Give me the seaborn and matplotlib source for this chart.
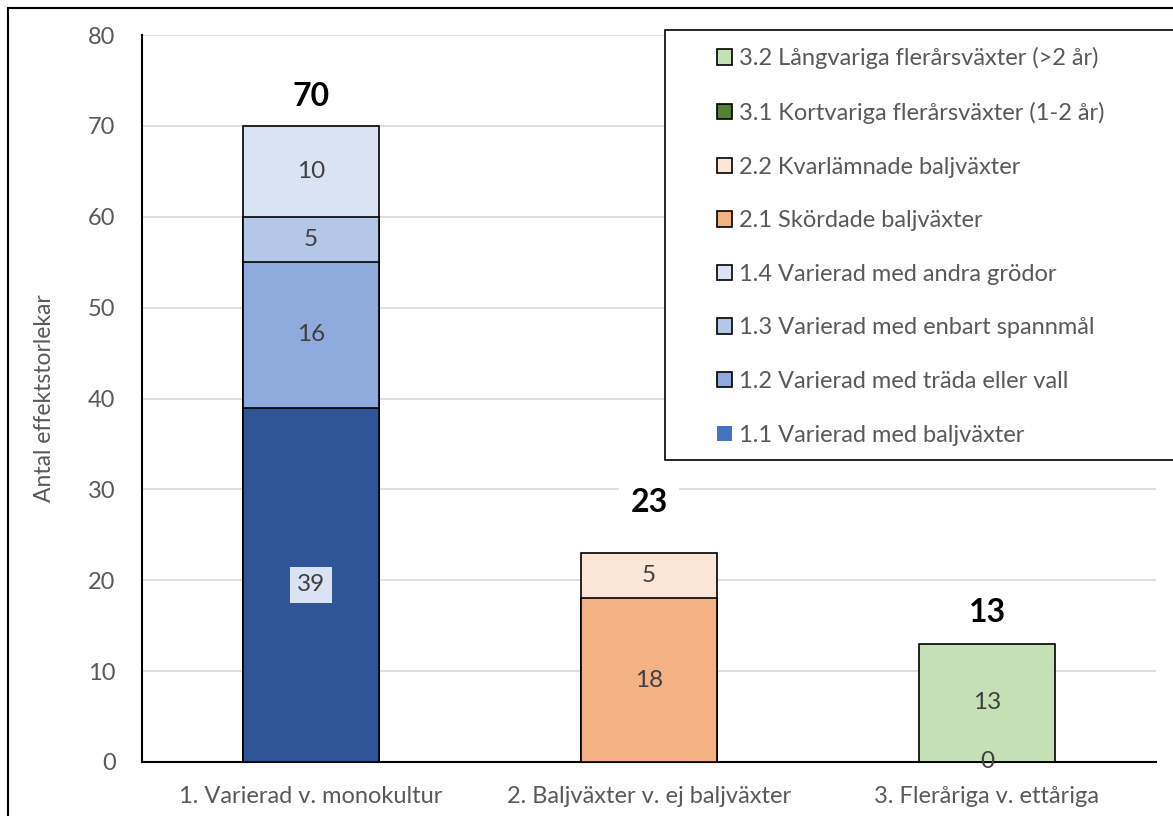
import pandas as pd
import numpy as np
import matplotlib.pyplot as plt
import seaborn as sns
from matplotlib.patches import Patch, Rectangle

# ── Data ──
CATEGORIES = ['1. Varierad v. monokultur', '2. Baljväxter v. ej baljväxter',
              '3. Fleråriga v. ettåriga']
SEGMENTS = ['1.1 Varierad med baljväxter', '1.2 Varierad med träda eller vall',
            '1.3 Varierad med enbart spannmål', '1.4 Varierad med andra grödor',
            '2.1 Skördade baljväxter', '2.2 Kvarlämnade baljväxter',
            '3.1 Kortvariga flerårsväxter (1-2 år)', '3.2 Långvariga flerårsväxter (>2 år)']
SEGMENT_CATEGORY = [0, 0, 0, 0, 1, 1, 2, 2]
SEGMENT_VALUES = [39, 16, 5, 10, 18, 5, 0, 13]

# ── Styles ──
BAR_COLORS = ['#2F5597', '#8FAADC', '#B4C7E7', '#DAE3F3',
              '#F4B183', '#FBE5D6', '#548235', '#C5E0B4']
LEGEND_COLORS = ['#4472C4', '#8FAADC', '#B4C7E7', '#DAE3F3',
                 '#F4B183', '#FBE5D6', '#548235', '#C5E0B4']
TOTAL_PAD = [3.2, 5.6, 3.5]
GREY = '#595959'

sns.set_style('white')
plt.rcParams['font.family'] = ['Lato', 'DejaVu Sans']

# long-form table with cumulative tops per category
df = pd.DataFrame({'cat': [CATEGORIES[i] for i in SEGMENT_CATEGORY],
                   'segment': SEGMENTS, 'value': SEGMENT_VALUES})
df['top'] = df.groupby('cat', sort=False)['value'].cumsum()
df['bottom'] = df['top'] - df['value']
totals = df.groupby('cat', sort=False)['value'].sum().reindex(CATEGORIES)

fig = plt.figure(figsize=(11.73, 8.16), dpi=100)
ax = fig.add_axes([142 / 1173, 1 - 762 / 816, (1156 - 142) / 1173, (762 - 35) / 816])

# draw tallest cumulative bars first so lower segments sit on top
palette = dict(zip(SEGMENTS, BAR_COLORS))
sns.barplot(data=df, x='cat', y='top', hue='segment', hue_order=SEGMENTS[::-1],
            order=CATEGORIES, palette=palette, dodge=False, width=0.4,
            edgecolor='black', linewidth=1.2, saturation=1, legend=False, ax=ax,
            zorder=3)

# segment labels
for _, r in df.iterrows():
    xi = CATEGORIES.index(r['cat'])
    yc = (r['bottom'] + r['top']) / 2
    kw = {}
    if r['value'] == 39:
        kw['bbox'] = dict(boxstyle='square,pad=0.3', facecolor='#DAE3F3', edgecolor='none')
    ax.text(xi, yc, f"{r['value']}", ha='center', va='center', fontsize=17.5,
            color='#404040', zorder=5, **kw)

# totals
for i, (cat, tot) in enumerate(totals.items()):
    ax.text(i, tot + TOTAL_PAD[i], f'{tot}', ha='center', va='center', fontsize=23,
            fontweight='bold', color='black', zorder=5,
            bbox=dict(boxstyle='square,pad=0.35', facecolor='white', edgecolor='none'))

ax.set_ylim(0, 80)
ax.set_xlim(-0.5, 2.5)
ax.set_yticks(np.arange(0, 81, 10))
ax.yaxis.grid(True, color='#D9D9D9', linewidth=1.2, zorder=0)
ax.set_axisbelow(True)
ax.tick_params(axis='both', length=0, labelsize=17, labelcolor=GREY)
ax.tick_params(axis='y', pad=19)
ax.tick_params(axis='x', pad=17)
ax.set_xlabel('')
ax.set_ylabel('Antal effektstorlekar', fontsize=16.5, color=GREY, labelpad=24)
for s in ['top', 'right']:
    ax.spines[s].set_visible(False)
ax.spines['left'].set_color('black')
ax.spines['left'].set_linewidth(1.5)
ax.spines['bottom'].set_color('black')
ax.spines['bottom'].set_linewidth(1.5)

# legend with separate frame
handles = []
for seg, col in zip(SEGMENTS[::-1], LEGEND_COLORS[::-1]):
    ec = 'none' if seg.startswith('1.1') else 'black'
    handles.append(Patch(facecolor=col, edgecolor=ec, linewidth=1.2))
fig.patches.append(Rectangle((665 / 1173, 1 - 460 / 816), 520 / 1173, 430 / 816,
                             transform=fig.transFigure, facecolor='white',
                             edgecolor='black', linewidth=1.2, zorder=6))
leg = fig.legend(handles, SEGMENTS[::-1], loc='upper left',
                 bbox_to_anchor=(696 / 1173, 1 - 26 / 816), frameon=False,
                 fontsize=17, labelcolor=GREY, handlelength=0.62, handleheight=0.62,
                 handletextpad=0.3, labelspacing=1.38)
leg.set_zorder(7)

# figure border
fig.patches.append(Rectangle((8 / 1173, -0.05), 1.1, 1 - 8 / 816 + 0.05,
                             transform=fig.transFigure, facecolor='none',
                             edgecolor='black', linewidth=1.5, zorder=10))

fig.savefig('out.png', dpi=100)
